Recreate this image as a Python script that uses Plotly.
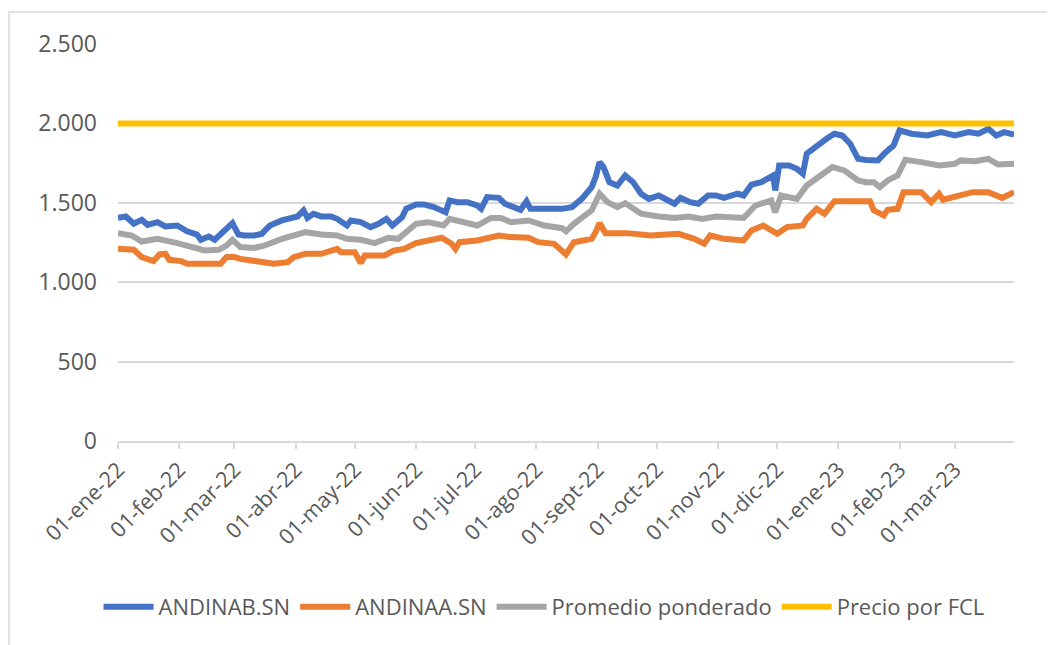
import plotly.graph_objects as go

# ---------------- data ----------------
andinab_dates = [
    "2022-01-01", "2022-01-05", "2022-01-09", "2022-01-13", "2022-01-16", "2022-01-21",
    "2022-01-25", "2022-01-31", "2022-02-05", "2022-02-10", "2022-02-12", "2022-02-16",
    "2022-02-19", "2022-02-22", "2022-02-26", "2022-02-28", "2022-03-03", "2022-03-06",
    "2022-03-11", "2022-03-15", "2022-03-16", "2022-03-19", "2022-03-25", "2022-03-30",
    "2022-04-02", "2022-04-05", "2022-04-07", "2022-04-10", "2022-04-14", "2022-04-19",
    "2022-04-22", "2022-04-27", "2022-04-29", "2022-05-04", "2022-05-09", "2022-05-13",
    "2022-05-17", "2022-05-20", "2022-05-25", "2022-05-27", "2022-05-31", "2022-06-01",
    "2022-06-05", "2022-06-10", "2022-06-16", "2022-06-18", "2022-06-22", "2022-06-27",
    "2022-07-02", "2022-07-04", "2022-07-07", "2022-07-13", "2022-07-16", "2022-07-19",
    "2022-07-24", "2022-07-27", "2022-07-29", "2022-08-05", "2022-08-12", "2022-08-14",
    "2022-08-19", "2022-08-24", "2022-08-29", "2022-08-31", "2022-09-02", "2022-09-04",
    "2022-09-07", "2022-09-11", "2022-09-15", "2022-09-19", "2022-09-23", "2022-09-27",
    "2022-10-02", "2022-10-06", "2022-10-10", "2022-10-13", "2022-10-18", "2022-10-22",
    "2022-10-27", "2022-10-31", "2022-11-04", "2022-11-11", "2022-11-14", "2022-11-18",
    "2022-11-23", "2022-11-29", "2022-11-30", "2022-12-02", "2022-12-07", "2022-12-11",
    "2022-12-14", "2022-12-16", "2022-12-21", "2022-12-26", "2022-12-30", "2023-01-03",
    "2023-01-07", "2023-01-11", "2023-01-15", "2023-01-21", "2023-01-25", "2023-01-29",
    "2023-02-01", "2023-02-07", "2023-02-15", "2023-02-22", "2023-03-01", "2023-03-08",
    "2023-03-13", "2023-03-18", "2023-03-22", "2023-03-26", "2023-03-31",
]
andinab_values = [
    1405, 1414, 1368, 1393, 1361, 1378,
    1351, 1357, 1321, 1300, 1267, 1288,
    1267, 1305, 1357, 1372, 1300, 1294,
    1294, 1305, 1320, 1357, 1389, 1405,
    1414, 1452, 1405, 1431, 1414, 1414,
    1399, 1357, 1389, 1378, 1347, 1368,
    1399, 1357, 1410, 1462, 1483, 1490,
    1490, 1473, 1441, 1515, 1504, 1504,
    1483, 1462, 1536, 1531, 1494, 1483,
    1456, 1510, 1462, 1462, 1456, 1462,
    1473, 1525, 1599, 1662, 1756, 1725,
    1630, 1609, 1672, 1630, 1557, 1525,
    1546, 1515, 1494, 1531, 1504, 1494,
    1546, 1546, 1531, 1557, 1546, 1615,
    1630, 1672, 1578, 1735, 1735, 1714,
    1683, 1809, 1861, 1903, 1935, 1924,
    1872, 1777, 1770, 1767, 1819, 1861,
    1956, 1935, 1924, 1945, 1924, 1945,
    1935, 1966, 1924, 1945, 1930,
]

andinaa_dates = [
    "2022-01-01", "2022-01-09", "2022-01-13", "2022-01-19", "2022-01-22", "2022-01-25",
    "2022-01-27", "2022-02-02", "2022-02-05", "2022-02-22", "2022-02-25", "2022-03-01",
    "2022-03-04", "2022-03-11", "2022-03-17", "2022-03-21", "2022-03-28", "2022-03-31",
    "2022-04-06", "2022-04-14", "2022-04-22", "2022-04-24", "2022-05-01", "2022-05-04",
    "2022-05-06", "2022-05-16", "2022-05-21", "2022-05-26", "2022-06-01", "2022-06-07",
    "2022-06-14", "2022-06-19", "2022-06-21", "2022-06-23", "2022-07-02", "2022-07-13",
    "2022-07-19", "2022-07-28", "2022-08-02", "2022-08-10", "2022-08-14", "2022-08-16",
    "2022-08-20", "2022-08-29", "2022-08-31", "2022-09-02", "2022-09-05", "2022-09-16",
    "2022-09-28", "2022-10-12", "2022-10-20", "2022-10-25", "2022-10-28", "2022-10-31",
    "2022-11-04", "2022-11-14", "2022-11-18", "2022-11-24", "2022-11-27", "2022-12-01",
    "2022-12-06", "2022-12-14", "2022-12-16", "2022-12-21", "2022-12-25", "2022-12-30",
    "2023-01-15", "2023-01-17", "2023-01-19", "2023-01-24", "2023-01-26", "2023-01-31",
    "2023-02-03", "2023-02-12", "2023-02-17", "2023-02-21", "2023-02-23", "2023-03-03",
    "2023-03-10", "2023-03-18", "2023-03-25", "2023-03-31",
]
andinaa_values = [
    1210, 1204, 1158, 1133, 1175, 1179,
    1141, 1133, 1116, 1116, 1158, 1158,
    1147, 1133, 1120, 1116, 1126, 1158,
    1179, 1179, 1210, 1189, 1189, 1120,
    1168, 1168, 1200, 1210, 1246, 1258,
    1280, 1242, 1210, 1252, 1263, 1294,
    1284, 1280, 1252, 1242, 1200, 1175,
    1252, 1273, 1315, 1372, 1309, 1309,
    1294, 1305, 1273, 1242, 1294, 1288,
    1273, 1263, 1326, 1357, 1336, 1305,
    1347, 1357, 1399, 1462, 1431, 1510,
    1510, 1510, 1452, 1420, 1456, 1462,
    1567, 1567, 1504, 1557, 1519, 1546,
    1567, 1567, 1531, 1567,
]

promedio_dates = [
    "2022-01-01", "2022-01-08", "2022-01-13", "2022-01-21", "2022-01-31", "2022-02-09",
    "2022-02-14", "2022-02-21", "2022-02-25", "2022-02-28", "2022-03-04", "2022-03-11",
    "2022-03-16", "2022-03-25", "2022-03-31", "2022-04-06", "2022-04-14", "2022-04-22",
    "2022-04-27", "2022-05-04", "2022-05-11", "2022-05-18", "2022-05-23", "2022-05-28",
    "2022-06-01", "2022-06-07", "2022-06-15", "2022-06-18", "2022-06-24", "2022-07-02",
    "2022-07-09", "2022-07-14", "2022-07-19", "2022-07-28", "2022-08-05", "2022-08-12",
    "2022-08-14", "2022-08-16", "2022-08-20", "2022-08-29", "2022-09-02", "2022-09-06",
    "2022-09-11", "2022-09-15", "2022-09-23", "2022-10-02", "2022-10-10", "2022-10-17",
    "2022-10-24", "2022-10-31", "2022-11-06", "2022-11-14", "2022-11-20", "2022-11-28",
    "2022-11-30", "2022-12-03", "2022-12-11", "2022-12-16", "2022-12-23", "2022-12-29",
    "2023-01-04", "2023-01-11", "2023-01-15", "2023-01-19", "2023-01-22", "2023-01-26",
    "2023-01-31", "2023-02-04", "2023-02-12", "2023-02-21", "2023-03-01", "2023-03-04",
    "2023-03-11", "2023-03-18", "2023-03-23", "2023-03-31",
]
promedio_values = [
    1309, 1294, 1256, 1273, 1246, 1221,
    1200, 1204, 1231, 1267, 1221, 1216,
    1230, 1273, 1294, 1315, 1300, 1294,
    1273, 1267, 1246, 1280, 1273, 1330,
    1368, 1378, 1357, 1399, 1378, 1357,
    1405, 1405, 1378, 1389, 1357, 1347,
    1340, 1320, 1368, 1452, 1557, 1504,
    1473, 1498, 1431, 1414, 1405, 1414,
    1399, 1414, 1410, 1405, 1483, 1515,
    1441, 1546, 1525, 1609, 1672, 1725,
    1704, 1641, 1630, 1630, 1599, 1641,
    1672, 1771, 1756, 1735, 1746, 1767,
    1762, 1777, 1741, 1746,
]

fcl_dates = ["2022-01-01", "2023-03-31"]
fcl_values = [2000, 2000]

month_ticks = [
    "2022-01-01", "2022-02-01", "2022-03-01", "2022-04-01", "2022-05-01", "2022-06-01",
    "2022-07-01", "2022-08-01", "2022-09-01", "2022-10-01", "2022-11-01", "2022-12-01",
    "2023-01-01", "2023-02-01", "2023-03-01",
]
month_labels = [
    "01-ene-22", "01-feb-22", "01-mar-22", "01-abr-22", "01-may-22", "01-jun-22",
    "01-jul-22", "01-ago-22", "01-sept-22", "01-oct-22", "01-nov-22", "01-dic-22",
    "01-ene-23", "01-feb-23", "01-mar-23",
]
y_ticks = [0, 500, 1000, 1500, 2000, 2500]

# ---------------- figure ----------------
FONT = "Open Sans"
TXT = "#595959"
GRID = "#D9D9D9"
LW = 6

fig = go.Figure()
fig.add_trace(go.Scatter(x=andinab_dates, y=andinab_values, name="ANDINAB.SN",
                         mode="lines", line=dict(color="#4472C4", width=LW)))
fig.add_trace(go.Scatter(x=andinaa_dates, y=andinaa_values, name="ANDINAA.SN",
                         mode="lines", line=dict(color="#ED7D31", width=LW)))
fig.add_trace(go.Scatter(x=promedio_dates, y=promedio_values, name="Promedio ponderado",
                         mode="lines", line=dict(color="#A5A5A5", width=LW)))
fig.add_trace(go.Scatter(x=fcl_dates, y=fcl_values, name="Precio por FCL",
                         mode="lines", line=dict(color="#FFC000", width=LW)))

W, H = 1055, 645
OFF = 8  # page body margin
L, R, T, B = 118 - OFF, 1014 - OFF, 44 - OFF, 441 - OFF

def px2x(px):
    return (px - OFF - L) / (R - L)

def py2y(py):
    return (B - (py - OFF)) / (B - T)

fig.update_layout(
    width=W, height=H,
    margin=dict(l=L, r=W - R, t=T, b=H - B, autoexpand=False),
    paper_bgcolor="white", plot_bgcolor="white",
    separators=",.",
    font=dict(family=FONT, size=22, color=TXT),
    showlegend=True,
    legend=dict(orientation="h", x=px2x(544), xanchor="center",
                y=py2y(607), yanchor="middle",
                font=dict(family=FONT, size=22, color=TXT),
                itemwidth=50, tracegroupgap=0, bgcolor="rgba(0,0,0,0)"),
    xaxis=dict(
        type="date", automargin=False,
        range=["2022-01-01", "2023-03-31"],
        tickmode="array", tickvals=month_ticks, ticktext=month_labels,
        tickangle=-45, tickfont=dict(family=FONT, size=21.5, color=TXT),
        showgrid=False, zeroline=False,
        showline=True, linecolor=GRID, linewidth=1.5,
        ticks="outside", ticklen=6, tickcolor=GRID, tickwidth=1.5,
    ),
    yaxis=dict(
        range=[0, 2500], automargin=False,
        tickmode="array", tickvals=y_ticks, tickformat=",d",
        tickfont=dict(family=FONT, size=23, color=TXT),
        showgrid=True, gridcolor=GRID, gridwidth=1.5,
        zeroline=False, showline=False, ticks="",
        ticklabelstandoff=20,
    ),
    shapes=[dict(type="rect", xref="paper", yref="paper",
                 x0=px2x(9), x1=px2x(1075), y0=py2y(670), y1=py2y(12),
                 line=dict(color=GRID, width=1.5), fillcolor="rgba(0,0,0,0)",
                 layer="below")],
)

fig.write_html("out.html")
